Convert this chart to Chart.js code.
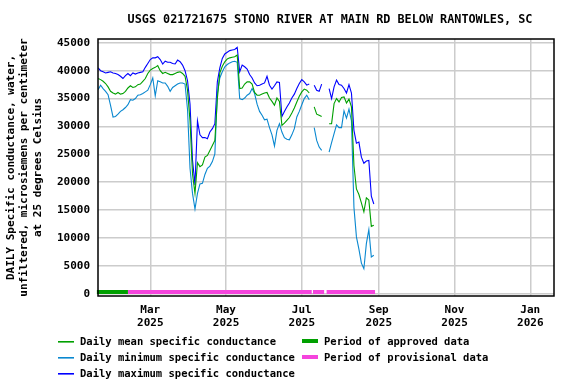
<!DOCTYPE html>
<html>
<head>
<meta charset="utf-8">
<script src="https://cdn.jsdelivr.net/npm/chart.js@4.4.1/dist/chart.umd.min.js"></script>
<style>
  html, body { margin: 0; padding: 0; background: #fff; }
  #wrap { width: 576px; height: 384px; }
</style>
</head>
<body>
<div id="wrap"><canvas id="chart" width="576" height="384"></canvas></div>
<script>
const stationTitle = "USGS 021721675 STONO RIVER AT MAIN RD BELOW RANTOWLES, SC";
const yTitle = ["DAILY Specific conductance, water,", "unfiltered, microsiemens per centimeter", "at 25 degrees Celsius"];

// samples start 2025-01-18 (day 17 counted from Jan 1 2025), one every 2 days
const firstDay = 17;
const stepDays = 2;

const meanValues = [
  38600, 38400, 38100, 37700, 37100, 36300, 36000, 35800, 36100, 35800,
  35900, 36300, 36900, 37300, 37000, 37100, 37500, 37600, 38100, 38600,
  39500, 40100, 40400, 40600, 40900, 40000, 39500, 39700, 39500, 39300,
  39300, 39500, 39700, 39800, 39500, 39000, 36500, 31000, 21500, 18000,
  23500, 22800, 23100, 24500, 24800, 25700, 26600, 27500, 35000, 39600,
  40800, 41600, 42100, 42300, 42400, 42500, 42800, 36800, 36900, 37600,
  38000, 38000, 37600, 36100, 35600, 35600, 35800, 36000, 36100, 35100,
  34500, 33800, 35100, 34500, 30200, 30600, 31100, 31600, 32400, 33300,
  34400, 35400, 36200, 36700, 36500, 36000, null, 33500, 32200, 32000,
  31800, null, null, 30500, 30500, 34100, 35000, 34400, 35200, 35300,
  34200, 34900, 33500, 23000, 18800, 17800, 16300, 14700, 17200, 16800,
  12100, 12300
];
const minValues = [
  36600, 37400, 36800, 36300, 35700, 33800, 31700, 31800, 32200, 32700,
  33000, 33400, 33900, 34800, 34700, 35000, 35600, 35700, 35900, 36200,
  36500, 37500, 38700, 35500, 38200, 38000, 37800, 37800, 37200, 36300,
  37000, 37300, 37600, 37800, 37800, 37600, 33000, 22500, 18000, 15200,
  18000, 19700, 19800, 21400, 22500, 22900, 23700, 25100, 35900, 38700,
  39800, 40700, 41100, 41400, 41600, 41700, 41500, 35000, 34800, 35100,
  35600, 35900, 36800, 35900, 34000, 32700, 32000, 31200, 31300, 29800,
  28500, 26500, 29300, 30500, 29000, 28000, 27700, 27600, 28500, 29600,
  31700, 32700, 33900, 35000, 35600, 34800, null, 29800, 27500, 26300,
  25700, null, null, 25400, 27100, 28700, 30300, 29800, 29800, 32800,
  31500, 33100, 31000, 15500, 10200, 8000, 5500, 4500, 9000, 11500,
  6600, 6900
];
const maxValues = [
  40500, 40000, 39800, 39600, 39700, 39800, 39600, 39500, 39300, 39000,
  38600, 39100, 39500, 39100, 39600, 39400, 39600, 39700, 39800, 40600,
  41300, 42000, 42300, 42300, 42500, 42000, 41200, 41700, 41500, 41500,
  41300, 41200, 41900, 41600, 41000, 40000, 38200, 34000, 24000, 19500,
  31000, 28500, 28000, 28000, 27800, 29000, 29600, 30500, 38000, 40500,
  42200, 43000, 43300, 43600, 43700, 43800, 44200, 39800, 41000, 40700,
  40300, 39300, 38700, 37800, 37300, 37400, 37600, 37800, 39000, 37400,
  36700, 37300, 38000, 37900, 31800, 32700, 33500, 34200, 35100, 35800,
  36800, 37700, 38400, 38000, 37400, 37600, null, 37400, 36500, 36300,
  37600, null, null, 36800, 35000, 37100, 38300, 37500, 37400, 36800,
  36000, 37500, 36000, 29300, 27000, 27200, 24500, 23400, 23800, 23900,
  17500, 16100
];

const monthTicks = [59, 120, 181, 243, 304, 365];
const monthLabels = [["Mar", "2025"], ["May", "2025"], ["Jul", "2025"], ["Sep", "2025"], ["Nov", "2025"], ["Jan", "2026"]];
const yTicks = [0, 5000, 10000, 15000, 20000, 25000, 30000, 35000, 40000, 45000];

const approvedPeriods = [["2025-01-17", "2025-02-11"]];
const provisionalPeriods = [["2025-02-11", "2025-07-09"], ["2025-07-10", "2025-07-19"], ["2025-07-21", "2025-08-29"]];

const seriesColors = ["#00a000", "#0a88d0", "#0000ff"];
const approvedColor = "#00a000";
const provisionalColor = "#f544dd";

function dayOf(s) {
  const [y, m, d] = s.split("-").map(Number);
  return (Date.UTC(y, m - 1, d) - Date.UTC(2025, 0, 1)) / 86400000;
}

function toPoints(values) {
  return values.map((v, i) => ({ x: firstDay + i * stepDays, y: v }));
}

const mono = "'DejaVu Sans Mono', 'Liberation Mono', monospace";

const extras = {
  id: "extras",
  afterDatasetsDraw(chart) {
    const { ctx, chartArea: a, scales: { x } } = chart;
    ctx.save();
    const drawPeriods = (periods, color) => {
      ctx.fillStyle = color;
      periods.forEach(([s, e]) => {
        const x0 = x.getPixelForValue(dayOf(s));
        const x1 = x.getPixelForValue(dayOf(e));
        ctx.fillRect(x0, a.bottom - 6, x1 - x0, 4);
      });
    };
    drawPeriods(provisionalPeriods, provisionalColor);
    drawPeriods(approvedPeriods, approvedColor);
    ctx.strokeStyle = "#000";
    ctx.lineWidth = 1.5;
    ctx.strokeRect(a.left, a.top, a.right - a.left, a.bottom - a.top);
    ctx.restore();
  },
  afterDraw(chart) {
    const { ctx, chartArea: a } = chart;
    ctx.save();
    ctx.fillStyle = "#000";
    ctx.textBaseline = "middle";
    ctx.textAlign = "center";
    ctx.font = "bold 11.8px " + mono;
    ctx.fillText(stationTitle, (a.left + a.right) / 2 + 4, 20);

    // legend
    ctx.font = "bold 10.5px " + mono;
    ctx.textAlign = "left";
    const rows = [341, 357, 373];
    chart.data.datasets.forEach((ds, i) => {
      ctx.fillStyle = seriesColors[i];
      ctx.fillRect(58, rows[i], 16, 1.6);
      ctx.fillStyle = "#000";
      ctx.fillText(ds.label, 80, rows[i] + 1);
    });
    [["Period of approved data", approvedColor], ["Period of provisional data", provisionalColor]].forEach(([t, c], i) => {
      ctx.fillStyle = c;
      ctx.fillRect(302, rows[i] - 2, 16, 4);
      ctx.fillStyle = "#000";
      ctx.fillText(t, 324, rows[i] + 1);
    });
    ctx.restore();
  }
};

new Chart(document.getElementById("chart"), {
  type: "line",
  data: {
    datasets: [
      { label: "Daily mean specific conductance", data: toPoints(meanValues), borderColor: seriesColors[0] },
      { label: "Daily minimum specific conductance", data: toPoints(minValues), borderColor: seriesColors[1] },
      { label: "Daily maximum specific conductance", data: toPoints(maxValues), borderColor: seriesColors[2] }
    ]
  },
  options: {
    responsive: false,
    animation: false,
    events: [],
    spanGaps: false,
    elements: {
      point: { radius: 0 },
      line: { borderWidth: 1.1, tension: 0 }
    },
    layout: { padding: { left: 0, top: 39, right: 22, bottom: 0 } },
    plugins: { legend: { display: false }, title: { display: false }, tooltip: { enabled: false } },
    scales: {
      x: {
        type: "linear",
        min: 16.9,
        max: 384.1,
        afterBuildTicks: (scale) => { scale.ticks = monthTicks.map(v => ({ value: v })); },
        afterFit: (scale) => { scale.height = 88; },
        grid: { color: "#cccccc", lineWidth: 1.5, drawTicks: false },
        border: { display: false },
        ticks: {
          autoSkip: false,
          maxRotation: 0,
          padding: 8,
          color: "#000",
          font: { family: mono, size: 11, weight: "bold", lineHeight: 1.15 },
          callback: (value, index) => monthLabels[index]
        }
      },
      y: {
        min: -394,
        max: 45681,
        afterBuildTicks: (scale) => { scale.ticks = yTicks.map(v => ({ value: v })); },
        afterFit: (scale) => { scale.width = 98; },
        grid: { color: "#cccccc", lineWidth: 1.5, drawTicks: false },
        border: { display: false },
        ticks: {
          padding: 8,
          color: "#000",
          font: { family: mono, size: 11, weight: "bold" },
          callback: (value) => String(value)
        },
        title: {
          display: true,
          text: yTitle,
          color: "#000",
          padding: { top: 4, bottom: 0 },
          font: { family: mono, size: 11, weight: "bold", lineHeight: 1.23 }
        }
      }
    }
  },
  plugins: [extras]
});
</script>
</body>
</html>
